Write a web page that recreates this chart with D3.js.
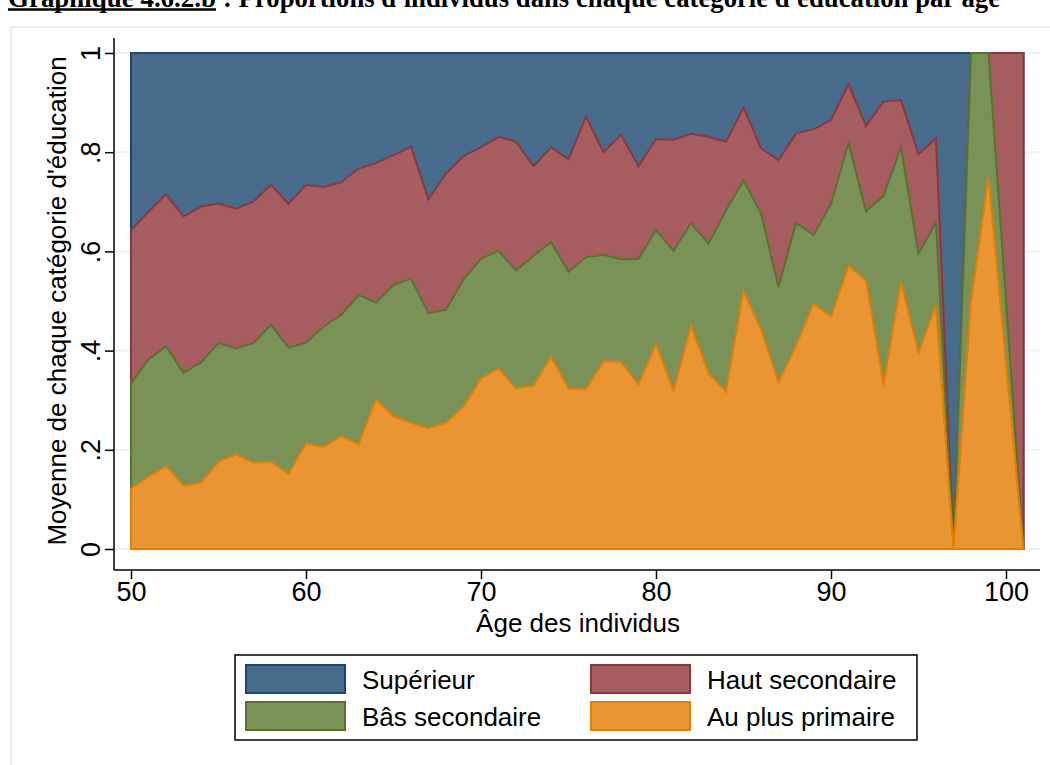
<!DOCTYPE html>
<html><head><meta charset="utf-8">
<script src="https://cdn.jsdelivr.net/npm/d3@7"></script>
<style>
body{margin:0;background:#fff}
svg{display:block}
text{font-family:"Liberation Sans",Arial,Helvetica,sans-serif;fill:#000}
</style>
</head><body>
<svg id="c" width="1050" height="765"></svg>
<script>
// ---- Data ----
const ages = [50,51,52,53,54,55,56,57,58,59,60,61,62,63,64,65,66,67,68,69,70,71,72,73,74,75,76,77,78,79,80,81,82,83,84,85,86,87,88,89,90,91,92,93,94,95,96,97,98,99,101];
const primaire  = [.122,.146,.167,.128,.134,.176,.191,.174,.176,.151,.213,.206,.228,.211,.302,.267,.255,.243,.255,.287,.344,.364,.324,.329,.388,.324,.322,.379,.377,.331,.413,.319,.450,.354,.317,.521,.442,.337,.409,.495,.468,.571,.541,.331,.538,.396,.492,0,.5,.75,0];
const basSec    = [.212,.236,.242,.227,.242,.239,.214,.241,.276,.255,.203,.242,.244,.301,.195,.265,.290,.233,.227,.257,.241,.237,.238,.262,.231,.235,.266,.214,.207,.254,.230,.282,.207,.262,.366,.222,.235,.191,.249,.138,.228,.247,.140,.381,.272,.200,.166,0,.5,.25,0];
const hautSec   = [.309,.298,.306,.316,.314,.282,.281,.286,.282,.290,.318,.282,.267,.255,.281,.262,.266,.229,.275,.248,.225,.230,.259,.181,.191,.227,.284,.207,.251,.187,.183,.224,.180,.215,.138,.147,.131,.256,.180,.213,.169,.119,.172,.190,.095,.200,.170,0,0,0,1];
const superieur = [.357,.320,.285,.329,.310,.303,.314,.299,.266,.304,.266,.270,.261,.233,.222,.206,.189,.295,.243,.208,.190,.169,.179,.228,.190,.214,.128,.200,.165,.228,.174,.175,.163,.169,.179,.110,.192,.216,.162,.154,.135,.063,.147,.098,.095,.204,.172,1,0,0,0];

const seriesKeys   = ["primaire","basSec","hautSec","superieur"];
const seriesLabels = {superieur:"Supérieur", hautSec:"Haut secondaire", basSec:"Bâs secondaire", primaire:"Au plus primaire"};
const xTicks = [50,60,70,80,90,100];
const yTicks = [0,0.2,0.4,0.6,0.8,1];
const yTickLabels = ["0",".2",".4",".6",".8","1"];
const titleNum  = "Graphique 4.6.2.b";
const titleRest = ": Proportions d'individus dans chaque catégorie d'éducation par âge";
const xTitle = "Âge des individus";
const yTitle = "Moyenne de chaque catégorie d'éducation";

// ---- Styles ----
const fills   = {superieur:"#486b8b", hautSec:"#a55d60", basSec:"#7a9157", primaire:"#e99534"};
const strokes = {superieur:"#1a476f", hautSec:"#90353b", basSec:"#55752f", primaire:"#e37e00"};

const rows = ages.map((a,i)=>({age:a, primaire:primaire[i], basSec:basSec[i], hautSec:hautSec[i], superieur:superieur[i]}));
const stacked = d3.stack().keys(seriesKeys)(rows);

const svg = d3.select("#c");
const x = d3.scaleLinear().domain([50,100]).range([131,1006]);
const y = d3.scaleLinear().domain([0,1]).range([549,53]);

// Title (cut at top like the reference)
const tStyle = s => s.style("font-family","'Liberation Serif','Times New Roman',serif")
  .style("font-weight","bold").style("font-size","27px");
svg.append("text").attr("x",8).attr("y",7).call(tStyle)
  .attr("textLength",208).attr("lengthAdjust","spacingAndGlyphs").text(titleNum);
svg.append("text").attr("x",223).attr("y",7).call(tStyle)
  .attr("textLength",777).attr("lengthAdjust","spacingAndGlyphs").text(titleRest);
svg.append("line").attr("x1",8).attr("x2",216).attr("y1",9.5).attr("y2",9.5)
  .attr("stroke","#000").attr("stroke-width",2.5);

// graph region border
svg.append("rect").attr("x",11).attr("y",27).attr("width",1060).attr("height",760)
  .attr("fill","none").attr("stroke","#e6eef0").attr("stroke-width",2);

// gridlines
svg.append("g").selectAll("line").data(yTicks).join("line")
  .attr("x1",115).attr("x2",1040).attr("y1",d=>y(d)).attr("y2",d=>y(d))
  .attr("stroke","#eaf2f3").attr("stroke-width",2);

// areas: each from 0 to cumulative top, drawn top category first
const area = d3.area().x(d=>x(d.data.age)).y0(y(0)).y1(d=>y(d[1])).curve(d3.curveLinear);
const order = ["superieur","hautSec","basSec","primaire"];
order.forEach(k=>{
  const s = stacked.find(s=>s.key===k);
  svg.append("path").datum(s).attr("d",area)
    .attr("fill",fills[k]).attr("stroke",strokes[k]).attr("stroke-width",2).attr("stroke-linejoin","miter");
});

// axes
const yAxis = svg.append("g").attr("transform","translate(114,0)")
  .call(d3.axisLeft(y).tickValues(yTicks).tickFormat((d,i)=>yTickLabels[i]).tickSize(9).tickPadding(0));
yAxis.select(".domain").attr("d","M0,38V570").attr("stroke","#000").attr("stroke-width",1.5);
yAxis.selectAll(".tick line").attr("stroke","#000").attr("stroke-width",1.5);
yAxis.selectAll(".tick text").attr("x",null).attr("dy",null)
  .attr("transform","translate(-14,0) rotate(-90)").attr("text-anchor","middle")
  .style("font-size","27px").style("font-family","'Liberation Sans',Arial,sans-serif").attr("fill","#000");

const xAxis = svg.append("g").attr("transform","translate(0,570)")
  .call(d3.axisBottom(x).tickValues(xTicks).tickFormat(d3.format("d")).tickSize(9).tickPadding(0));
xAxis.select(".domain").attr("d","M114,0H1040").attr("stroke","#000").attr("stroke-width",1.5);
xAxis.selectAll(".tick line").attr("stroke","#000").attr("stroke-width",1.5);
xAxis.selectAll(".tick text").attr("y",31).attr("dy",null)
  .style("font-size","27px").style("font-family","'Liberation Sans',Arial,sans-serif").attr("fill","#000");

// axis titles
svg.append("text").attr("x",578).attr("y",632).attr("text-anchor","middle")
  .style("font-size","26px").text(xTitle);
svg.append("text").attr("transform","translate(66,301) rotate(-90)").attr("text-anchor","middle")
  .style("font-size","26px").text(yTitle);

// legend
const lg = svg.append("g");
lg.append("rect").attr("x",235).attr("y",655).attr("width",682).attr("height",85)
  .attr("fill","#fff").attr("stroke","#000").attr("stroke-width",1.5);
const legendItems = [
  {k:"superieur", col:0, row:0},{k:"hautSec", col:1, row:0},
  {k:"basSec", col:0, row:1},{k:"primaire", col:1, row:1}];
const colX = [246,591], rowY = [665,702];
legendItems.forEach(it=>{
  lg.append("rect").attr("x",colX[it.col]).attr("y",rowY[it.row]).attr("width",99).attr("height",28)
    .attr("fill",fills[it.k]).attr("stroke",strokes[it.k]).attr("stroke-width",2);
  lg.append("text").attr("x",colX[it.col]+116).attr("y",rowY[it.row]+24)
    .style("font-size","26px").text(seriesLabels[it.k]);
});
</script>
</body></html>
